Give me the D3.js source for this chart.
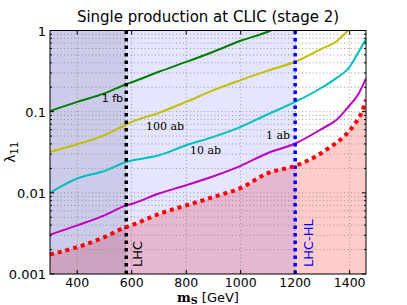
<!DOCTYPE html>
<html>
<head>
<meta charset="utf-8">
<script src="https://cdnjs.cloudflare.com/ajax/libs/d3/7.8.5/d3.min.js"></script>
<style>
  html, body { margin: 0; padding: 0; background: #fff; }
  svg { display: block; font-family: "DejaVu Sans", sans-serif; }
</style>
</head>
<body>
<svg id="chart"></svg>
<script>
// masses (GeV) and coupling reach for each luminosity curve
const massGreen = [300, 400, 500, 580, 600, 700, 800, 900, 1000, 1100, 1150];
const lamGreen = [0.102, 0.132, 0.168, 0.218, 0.23, 0.31, 0.41, 0.548, 0.748, 0.966, 1.15];

const massYellow = [300, 400, 500, 580, 600, 700, 800, 900, 1000, 1100, 1200, 1300, 1350, 1395, 1420];
const lamYellow = [0.032, 0.0397, 0.0513, 0.0695, 0.0748, 0.0967, 0.132, 0.184, 0.245, 0.32, 0.412, 0.603, 0.727, 1.0, 1.15];

const massCyan = [300, 400, 500, 580, 600, 700, 800, 900, 1000, 1100, 1200, 1300, 1350, 1400, 1430, 1460];
const lamCyan = [0.0100, 0.015, 0.0186, 0.024, 0.025, 0.029, 0.0386, 0.0489, 0.065, 0.093, 0.132, 0.20, 0.257, 0.357, 0.523, 0.78];

const massMagenta = [300, 400, 500, 580, 600, 700, 800, 900, 1000, 1100, 1200, 1300, 1350, 1400, 1430, 1460];
const lamMagenta = [0.00305, 0.00397, 0.00527, 0.0070, 0.0073, 0.0098, 0.0124, 0.016, 0.0215, 0.031, 0.0405, 0.062, 0.0785, 0.12, 0.16, 0.257];

const massRed = [300, 400, 500, 580, 600, 700, 800, 900, 1000, 1100, 1200, 1275, 1325, 1375, 1415, 1445, 1460];
const lamRed = [0.00174, 0.00214, 0.00285, 0.0038, 0.0040, 0.0055, 0.0070, 0.0089, 0.0115, 0.0175, 0.0215, 0.028, 0.036, 0.048, 0.068, 0.10, 0.14];

const curveLabels = ["1 fb", "100 ab", "10 ab", "1 ab"];
const lhcMass = 580;
const lhcHLMass = 1200;
const xTicks = [400, 600, 800, 1000, 1200, 1400];
const yTicks = [0.001, 0.01, 0.1, 1];
const yTickLabels = ["0.001", "0.01", "0.1", "1"];

const width = 407;
const height = 305;
const margin = { top: 30.5, right: 41, bottom: 31, left: 50 };

const svg = d3.select("#chart").attr("width", width).attr("height", height);

const x = d3.scaleLinear().domain([300, 1460]).range([margin.left, width - margin.right]);
const y = d3.scaleLog().domain([0.001, 1]).range([height - margin.bottom, margin.top]);

const x0 = x.range()[0], x1 = x.range()[1];
const yTop = y.range()[1], yBot = y.range()[0];

svg.append("defs").append("clipPath").attr("id", "plotclip")
    .append("rect")
    .attr("x", x0).attr("y", yTop)
    .attr("width", x1 - x0).attr("height", yBot - yTop);

const plot = svg.append("g").attr("clip-path", "url(#plotclip)");

// excluded region below the red line
const area = d3.area()
    .x(function (d) { return x(d[0]); })
    .y0(yBot)
    .y1(function (d) { return y(d[1]); })
    .curve(d3.curveMonotoneX);

plot.append("path")
    .datum(d3.zip(massRed, lamRed))
    .attr("d", area)
    .attr("fill", "rgba(255,0,0,0.2)");

// LHC-HL band and LHC band
plot.append("rect")
    .attr("x", x0).attr("y", yTop)
    .attr("width", x(lhcHLMass) - x0).attr("height", yBot - yTop)
    .attr("fill", "rgba(0,0,255,0.1)");

plot.append("rect")
    .attr("x", x0).attr("y", yTop)
    .attr("width", x(lhcMass) - x0).attr("height", yBot - yTop)
    .attr("fill", "rgba(10,10,60,0.11)");

// grid
const minorY = [];
[0.001, 0.01, 0.1].forEach(function (dec) {
    for (let k = 1; k < 10; k++) minorY.push(dec * k);
});
minorY.push(1);

plot.append("g").selectAll("line")
    .data(minorY)
    .enter().append("line")
    .attr("x1", x0).attr("x2", x1)
    .attr("y1", function (d) { return y(d); })
    .attr("y2", function (d) { return y(d); })
    .attr("stroke", "#888")
    .attr("stroke-width", 0.8)
    .attr("stroke-dasharray", "1,2.5");

plot.append("g").selectAll("line")
    .data(xTicks)
    .enter().append("line")
    .attr("x1", function (d) { return x(d); })
    .attr("x2", function (d) { return x(d); })
    .attr("y1", yTop).attr("y2", yBot)
    .attr("stroke", "#888")
    .attr("stroke-width", 0.8)
    .attr("stroke-dasharray", "1,2.5");

// curves
const line = d3.line()
    .x(function (d) { return x(d[0]); })
    .y(function (d) { return y(d[1]); })
    .curve(d3.curveMonotoneX);

const curves = [
    { m: massGreen, l: lamGreen, color: "#008000" },
    { m: massYellow, l: lamYellow, color: "#bfbf00" },
    { m: massCyan, l: lamCyan, color: "#00bfbf" },
    { m: massMagenta, l: lamMagenta, color: "#bf00bf" }
];

plot.append("g").selectAll("path")
    .data(curves)
    .enter().append("path")
    .attr("d", function (d) { return line(d3.zip(d.m, d.l)); })
    .attr("fill", "none")
    .attr("stroke", function (d) { return d.color; })
    .attr("stroke-width", 2);

// LHC limits
plot.append("line")
    .attr("x1", x(lhcMass)).attr("x2", x(lhcMass))
    .attr("y1", yTop).attr("y2", yBot)
    .attr("stroke", "#000")
    .attr("stroke-width", 3.5)
    .attr("stroke-dasharray", "3.5,4");

plot.append("line")
    .attr("x1", x(lhcHLMass)).attr("x2", x(lhcHLMass))
    .attr("y1", yTop).attr("y2", yBot)
    .attr("stroke", "#0000ff")
    .attr("stroke-width", 3.5)
    .attr("stroke-dasharray", "3.5,4");

plot.append("path")
    .datum(d3.zip(massRed, lamRed))
    .attr("d", line)
    .attr("fill", "none")
    .attr("stroke", "#ff0000")
    .attr("stroke-width", 4)
    .attr("stroke-dasharray", "4,4");

// curve labels (anchor, baseline, font)
const labelPos = [[123, 102, "end", "DejaVu Sans"], [146, 130, "start", "DejaVu Serif"], [190, 154, "start", "DejaVu Serif"], [266, 139, "start", "DejaVu Serif"]];
svg.append("g").selectAll("text")
    .data(curveLabels)
    .enter().append("text")
    .attr("x", function (d, i) { return labelPos[i][0]; })
    .attr("y", function (d, i) { return labelPos[i][1]; })
    .attr("text-anchor", function (d, i) { return labelPos[i][2]; })
    .attr("font-family", function (d, i) { return labelPos[i][3]; })
    .attr("font-size", "11px")
    .attr("fill", "#000")
    .text(function (d) { return d; });

svg.append("text")
    .attr("transform", "translate(" + (x(lhcMass) + 16) + "," + (yBot - 7) + ") rotate(-90)")
    .attr("font-size", "13px")
    .attr("fill", "#000")
    .text("LHC");

svg.append("text")
    .attr("transform", "translate(" + (x(lhcHLMass) + 18) + "," + (yBot - 7) + ") rotate(-90)")
    .attr("font-size", "13px")
    .attr("fill", "#0000ff")
    .text("LHC-HL");

// frame
svg.append("rect")
    .attr("x", x0).attr("y", yTop)
    .attr("width", x1 - x0).attr("height", yBot - yTop)
    .attr("fill", "none")
    .attr("stroke", "#000")
    .attr("stroke-width", 1);

// ticks (inward, all sides)
const tickG = svg.append("g").attr("stroke", "#000").attr("stroke-width", 1);
xTicks.forEach(function (t) {
    tickG.append("line").attr("x1", x(t)).attr("x2", x(t)).attr("y1", yBot).attr("y2", yBot - 4);
    tickG.append("line").attr("x1", x(t)).attr("x2", x(t)).attr("y1", yTop).attr("y2", yTop + 4);
});
minorY.forEach(function (t) {
    const major = yTicks.indexOf(t) >= 0;
    const len = major ? 4 : 2;
    tickG.append("line").attr("x1", x0).attr("x2", x0 + len).attr("y1", y(t)).attr("y2", y(t));
    tickG.append("line").attr("x1", x1).attr("x2", x1 - len).attr("y1", y(t)).attr("y2", y(t));
});

// tick labels
svg.append("g").selectAll("text")
    .data(xTicks)
    .enter().append("text")
    .attr("x", function (d) { return x(d); })
    .attr("y", yBot + 12.5)
    .attr("text-anchor", "middle")
    .attr("font-size", "12.5px")
    .text(function (d) { return d; });

svg.append("g").selectAll("text")
    .data(yTicks)
    .enter().append("text")
    .attr("x", x0 - 4)
    .attr("y", function (d) { return y(d) + 5; })
    .attr("text-anchor", "end")
    .attr("font-size", "13px")
    .text(function (d, i) { return yTickLabels[i]; });

// title and axis labels
svg.append("text")
    .attr("x", (x0 + x1) / 2)
    .attr("y", 22)
    .attr("text-anchor", "middle")
    .attr("font-size", "15px")
    .text("Single production at CLIC (stage 2)");

const xl = svg.append("text")
    .attr("x", (x0 + x1) / 2)
    .attr("y", 302)
    .attr("text-anchor", "middle")
    .attr("font-size", "13px");
xl.append("tspan").attr("font-family", "DejaVu Serif").attr("font-weight", "bold").text("m");
xl.append("tspan").attr("font-family", "DejaVu Serif").attr("font-weight", "bold")
    .attr("font-size", "9.5px").attr("dy", 2).text("S");
xl.append("tspan").attr("dy", -2).text(" [GeV]");

const yl = svg.append("text")
    .attr("transform", "translate(15," + ((yTop + yBot) / 2) + ") rotate(-90)")
    .attr("text-anchor", "middle")
    .attr("font-size", "14px");
yl.append("tspan").text("λ");
yl.append("tspan").attr("font-size", "10px").attr("dy", 3).text("11");
</script>
</body>
</html>
